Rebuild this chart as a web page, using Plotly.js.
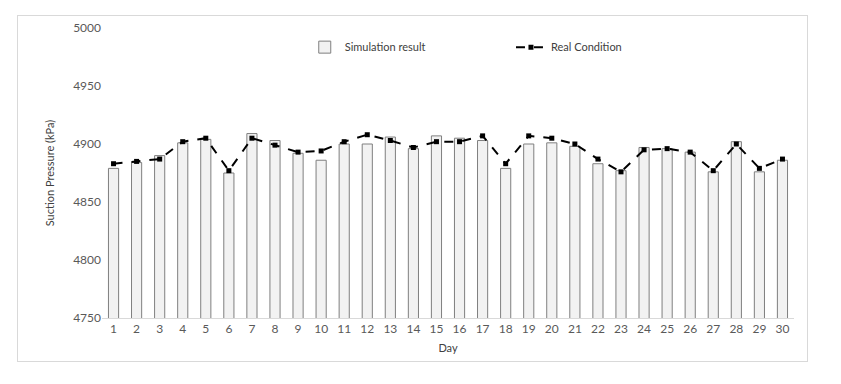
<!DOCTYPE html>
<html>
<head>
<meta charset="utf-8">
<script src="https://cdn.plot.ly/plotly-3.0.1.min.js"></script>
<style>
  body { margin: 0; background: #fff; }
  #chart { width: 841px; height: 384px; }
  #frame { position: absolute; left: 17px; top: 15px; width: 789px; height: 345px; border: 1px solid #d9d9d9; pointer-events: none; }
</style>
</head>
<body>
<div id="chart"></div>
<div id="frame"></div>
<script>
// days 1..30
const days = Array.from({ length: 30 }, (_, i) => String(i + 1))

// bars: simulation result (kPa)
const simulation = [
  4879, 4884, 4890, 4901, 4904, 4875, 4909, 4903, 4892, 4886,
  4900, 4900, 4906, 4896, 4907, 4905, 4903, 4879, 4900, 4901,
  4898, 4883, 4877, 4897, 4896, 4893, 4876, 4902, 4876, 4886
]

// dashed line: real condition (kPa)
const realCondition = [
  4883, 4885, 4887, 4902, 4905, 4877, 4905, 4899, 4893, 4894,
  4902, 4908, 4903, 4897, 4902, 4902, 4907, 4883, 4907, 4905,
  4900, 4887, 4876, 4895, 4896, 4893, 4877, 4900, 4879, 4887
]

const yTicks = [4750, 4800, 4850, 4900, 4950, 5000]

const font = { family: 'Lato, "Open Sans", sans-serif', size: 11, color: '#404040' }
const tickFont = { family: 'Lato, "Open Sans", sans-serif', size: 12, color: '#595959' }

const traces = [
  {
    type: 'bar',
    name: 'Simulation result',
    x: days,
    y: simulation,
    marker: { color: '#f2f2f2', line: { color: '#7f7f7f', width: 1 } },
    legend: 'legend'
  },
  {
    type: 'scatter',
    mode: 'lines+markers',
    name: 'Real Condition',
    x: days,
    y: realCondition,
    line: { color: '#000000', width: 2, dash: 'dash' },
    marker: { color: '#000000', symbol: 'square', size: 5 },
    legend: 'legend2'
  }
]

const layout = {
  width: 841,
  height: 384,
  paper_bgcolor: '#ffffff',
  plot_bgcolor: '#ffffff',
  font: font,
  margin: { t: 28, r: 47, b: 66, l: 102 },
  bargap: 0.56,
  showlegend: true,
  legend: {
    orientation: 'h',
    x: 0.293, y: 0.934, xanchor: 'left', yanchor: 'middle',
    bgcolor: 'rgba(0,0,0,0)',
    font: font
  },
  legend2: {
    orientation: 'h',
    x: 0.591, y: 0.934, xanchor: 'left', yanchor: 'middle',
    bgcolor: 'rgba(0,0,0,0)',
    font: font
  },
  xaxis: {
    type: 'category',
    range: [-0.5, 29.5],
    title: { text: 'Day', font: font, standoff: 8 },
    showgrid: false,
    showline: true,
    linecolor: '#d9d9d9',
    linewidth: 1,
    ticks: '',
    tickfont: tickFont,
    zeroline: false
  },
  yaxis: {
    range: [4750, 5000],
    tickvals: yTicks,
    title: { text: 'Suction Pressure (kPa)', font: font, standoff: 16 },
    showgrid: false,
    showline: false,
    zeroline: false,
    ticks: '',
    tickfont: tickFont
  }
}

Plotly.newPlot('chart', traces, layout, { staticPlot: true })
</script>
</body>
</html>
